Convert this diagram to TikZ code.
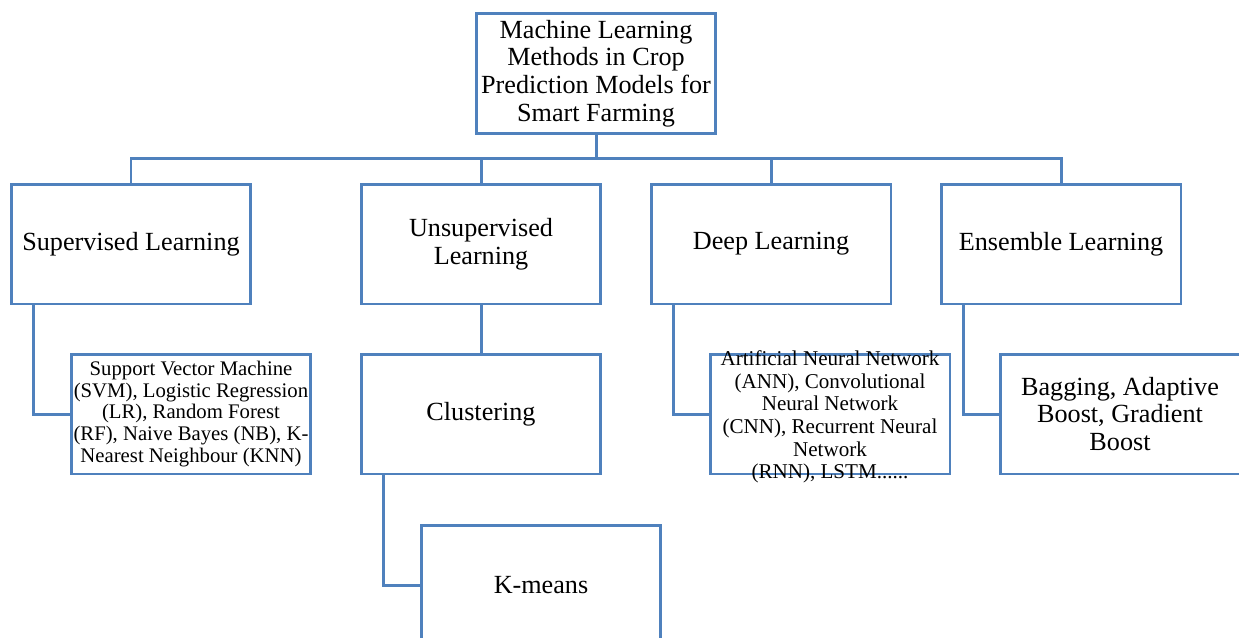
\documentclass[tikz,border=0pt]{standalone}
\usepackage{fontspec}
\setmainfont{Liberation Serif}
\definecolor{boxblue}{HTML}{4F81BD}
\tikzset{
  px/.style={x=0.02cm,y=-0.02cm},
  catbox/.style={draw=boxblue, line width=1.7pt, fill=white, rectangle,
    minimum width=4.8cm, minimum height=2.4cm, inner sep=0pt,
    align=center, font=\fontsize{14.9}{15.8}\selectfont},
  smalltext/.style={align=center, inner sep=0pt, font=\fontsize{11.8}{12.4}\selectfont},
  dltext/.style={align=center, inner sep=0pt, font=\fontsize{12}{12.9}\selectfont},
  link/.style={draw=boxblue, line width=1.7pt},
}
\begin{document}
\begin{tikzpicture}[px]
\useasboundingbox (0,0) rectangle (1239,637);

% root
\node[catbox] (top) at (596,73.5) {Machine Learning\\Methods in Crop\\Prediction Models for\\Smart Farming};

% main categories
\node[catbox] (sup)  at (131,244)  {Supervised Learning};
\node[catbox] (uns)  at (481,244)  {Unsupervised\\Learning};
\node[catbox] (deep) at (771,244)  {Deep Learning};
\node[catbox] (ens)  at (1061,244) {Ensemble Learning};

% second level
\node[catbox] (supc) at (191,414) {};
\node[smalltext] (suptext) at (supc.center) {Support Vector Machine\\(SVM), Logistic Regression\\(LR), Random Forest\\(RF), Naive Bayes (NB), K-\\Nearest Neighbour (KNN)};
\node[catbox] (clus) at (481,414) {Clustering};
\node[catbox] (deepc) at (830,414) {};
\node[dltext] (deeptext) at (830,417) {Artificial Neural Network\\(ANN), Convolutional\\Neural Network\\(CNN), Recurrent Neural\\Network\\(RNN), LSTM......};
\node[catbox] (ensc) at (1120,414) {Bagging, Adaptive\\Boost, Gradient\\Boost};

% third level
\node[catbox] (km) at (541,585) {K-means};

% bus under the root
\coordinate (bus) at (596,158);
\draw[link] (top.south) -- (top.south |- bus);
\draw[link] (sup.north) |- (ens.north |- bus) -- (ens.north);
\draw[link] (uns.north) -- (uns.north |- bus);
\draw[link] (deep.north) -- (deep.north |- bus);

% elbows to the children
\draw[link] ([xshift=0.48cm]sup.south west) |- (supc.west);
\draw[link] (uns.south) -- (clus.north);
\draw[link] ([xshift=0.48cm]clus.south west) |- (km.west);
\draw[link] ([xshift=0.48cm]deep.south west) |- (deepc.west);
\draw[link] ([xshift=0.48cm]ens.south west) |- (ensc.west);
\end{tikzpicture}
\end{document}
